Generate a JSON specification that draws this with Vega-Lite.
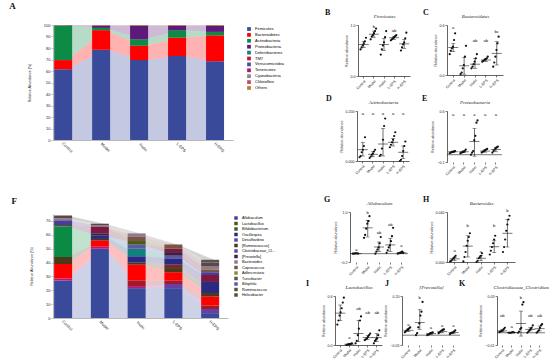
{
"$schema":"https://vega.github.io/schema/vega-lite/v6.json",
"padding":{"left":9,"top":2,"right":0,"bottom":0},
"background":"white",
"datasets":{
"phy":[
{"g":"Control","c":"Firmicutes","v":61.5,"k":1},{"g":"Control","c":"Bacteroidetes","v":8,"k":2},{"g":"Control","c":"Actinobacteria","v":30,"k":3},{"g":"Control","c":"Proteobacteria","v":0.3,"k":4},{"g":"Control","c":"Others","v":0.2,"k":11},
{"g":"Model","c":"Firmicutes","v":78.5,"k":1},{"g":"Model","c":"Bacteroidetes","v":17,"k":2},{"g":"Model","c":"Actinobacteria","v":2,"k":3},{"g":"Model","c":"Proteobacteria","v":2,"k":4},{"g":"Model","c":"Others","v":0.5,"k":11},
{"g":"Inulin","c":"Firmicutes","v":69.5,"k":1},{"g":"Inulin","c":"Bacteroidetes","v":12.5,"k":2},{"g":"Inulin","c":"Actinobacteria","v":5.5,"k":3},{"g":"Inulin","c":"Proteobacteria","v":12,"k":4},{"g":"Inulin","c":"Others","v":0.5,"k":11},
{"g":"L-EPS","c":"Firmicutes","v":73,"k":1},{"g":"L-EPS","c":"Bacteroidetes","v":16,"k":2},{"g":"L-EPS","c":"Actinobacteria","v":6.5,"k":3},{"g":"L-EPS","c":"Proteobacteria","v":4,"k":4},{"g":"L-EPS","c":"Others","v":0.5,"k":11},
{"g":"H-EPS","c":"Firmicutes","v":68.5,"k":1},{"g":"H-EPS","c":"Bacteroidetes","v":22.5,"k":2},{"g":"H-EPS","c":"Actinobacteria","v":3,"k":3},{"g":"H-EPS","c":"Proteobacteria","v":5.5,"k":4},{"g":"H-EPS","c":"Others","v":0.5,"k":11}
],
"gen":[
{"g":"Control","c":"Blautia","v":27,"k":1},{"g":"Control","c":"Akkermansia","v":1.5,"k":3},{"g":"Control","c":"Dorea","v":10.5,"k":5},{"g":"Control","c":"[Ruminococcus]","v":5,"k":6},{"g":"Control","c":"Enterococcus","v":22,"k":7},{"g":"Control","c":"Bifidobacterium","v":1,"k":8},{"g":"Control","c":"Allobaculum","v":3.5,"k":15},{"g":"Control","c":"Bacteroides","v":1.5,"k":18},{"g":"Control","c":"Helicobacter","v":2,"k":19},
{"g":"Model","c":"Blautia","v":50,"k":1},{"g":"Model","c":"Akkermansia","v":1.5,"k":3},{"g":"Model","c":"Dorea","v":4.5,"k":5},{"g":"Model","c":"[Ruminococcus]","v":1,"k":6},{"g":"Model","c":"Oscillospira","v":2.5,"k":10},{"g":"Model","c":"[Prevotella]","v":1.5,"k":13},{"g":"Model","c":"Odoribacter","v":5,"k":14},{"g":"Model","c":"Bacteroides","v":1,"k":18},{"g":"Model","c":"Helicobacter","v":1,"k":19},
{"g":"Inulin","c":"Blautia","v":21.5,"k":1},{"g":"Inulin","c":"Akkermansia","v":1.5,"k":3},{"g":"Inulin","c":"Sutterella","v":4,"k":4},{"g":"Inulin","c":"Dorea","v":11.5,"k":5},{"g":"Inulin","c":"[Ruminococcus]","v":1.5,"k":6},{"g":"Inulin","c":"Oscillospira","v":4.5,"k":10},{"g":"Inulin","c":"Parabacteroides","v":5.5,"k":11},{"g":"Inulin","c":"Bilophila","v":3,"k":12},{"g":"Inulin","c":"Lactobacillus","v":2.5,"k":16},{"g":"Inulin","c":"Coprococcus","v":3,"k":17},{"g":"Inulin","c":"Bacteroides","v":2.5,"k":18},
{"g":"L-EPS","c":"Blautia","v":21.5,"k":1},{"g":"L-EPS","c":"Clostridiaceae_Clostridium","v":3,"k":2},{"g":"L-EPS","c":"Sutterella","v":2.5,"k":4},{"g":"L-EPS","c":"Dorea","v":6,"k":5},{"g":"L-EPS","c":"[Ruminococcus]","v":3,"k":6},{"g":"L-EPS","c":"Anaerotruncus","v":2.5,"k":9},{"g":"L-EPS","c":"Oscillospira","v":4.5,"k":10},{"g":"L-EPS","c":"Bilophila","v":2,"k":12},{"g":"L-EPS","c":"[Prevotella]","v":2.5,"k":13},{"g":"L-EPS","c":"Odoribacter","v":2.5,"k":14},{"g":"L-EPS","c":"Coprococcus","v":3,"k":17},
{"g":"H-EPS","c":"Blautia","v":3.5,"k":1},{"g":"H-EPS","c":"Clostridiaceae_Clostridium","v":3,"k":2},{"g":"H-EPS","c":"Sutterella","v":2.5,"k":4},{"g":"H-EPS","c":"Dorea","v":6.5,"k":5},{"g":"H-EPS","c":"[Ruminococcus]","v":2.5,"k":6},{"g":"H-EPS","c":"Oscillospira","v":8,"k":10},{"g":"H-EPS","c":"Odoribacter","v":5,"k":14},{"g":"H-EPS","c":"Allobaculum","v":2,"k":15},{"g":"H-EPS","c":"Coprococcus","v":2,"k":17},{"g":"H-EPS","c":"Bacteroides","v":2.5,"k":18},{"g":"H-EPS","c":"Helicobacter","v":2.5,"k":19},{"g":"H-EPS","c":"Turicibacter","v":2,"k":20}
],
"pts":[
{"p":"B","g":"Control","s":1,"v":0.52},{"p":"B","g":"Control","s":2,"v":0.56},{"p":"B","g":"Control","s":3,"v":0.6},{"p":"B","g":"Control","s":4,"v":0.64},{"p":"B","g":"Control","s":5,"v":0.68},{"p":"B","g":"Control","s":6,"v":0.75},
{"p":"B","g":"Model","s":1,"v":0.72},{"p":"B","g":"Model","s":2,"v":0.77},{"p":"B","g":"Model","s":3,"v":0.8},{"p":"B","g":"Model","s":4,"v":0.84},{"p":"B","g":"Model","s":5,"v":0.88},{"p":"B","g":"Model","s":6,"v":0.93},
{"p":"B","g":"Inulin","s":1,"v":0.42},{"p":"B","g":"Inulin","s":2,"v":0.52},{"p":"B","g":"Inulin","s":3,"v":0.6},{"p":"B","g":"Inulin","s":4,"v":0.66},{"p":"B","g":"Inulin","s":5,"v":0.76},{"p":"B","g":"Inulin","s":6,"v":0.88},
{"p":"B","g":"L-EPS","s":1,"v":0.7},{"p":"B","g":"L-EPS","s":2,"v":0.72},{"p":"B","g":"L-EPS","s":3,"v":0.74},{"p":"B","g":"L-EPS","s":4,"v":0.76},{"p":"B","g":"L-EPS","s":5,"v":0.78},{"p":"B","g":"L-EPS","s":6,"v":0.8},
{"p":"B","g":"H-EPS","s":1,"v":0.5},{"p":"B","g":"H-EPS","s":2,"v":0.56},{"p":"B","g":"H-EPS","s":3,"v":0.62},{"p":"B","g":"H-EPS","s":4,"v":0.66},{"p":"B","g":"H-EPS","s":5,"v":0.74},{"p":"B","g":"H-EPS","s":6,"v":0.85},
{"p":"C","g":"Control","s":1,"v":0.25},{"p":"C","g":"Control","s":2,"v":0.29},{"p":"C","g":"Control","s":3,"v":0.32},{"p":"C","g":"Control","s":4,"v":0.34},{"p":"C","g":"Control","s":5,"v":0.42},{"p":"C","g":"Control","s":6,"v":0.5},
{"p":"C","g":"Model","s":1,"v":0.01},{"p":"C","g":"Model","s":2,"v":0.03},{"p":"C","g":"Model","s":3,"v":0.08},{"p":"C","g":"Model","s":4,"v":0.12},{"p":"C","g":"Model","s":5,"v":0.22},{"p":"C","g":"Model","s":6,"v":0.35},
{"p":"C","g":"Inulin","s":1,"v":0.08},{"p":"C","g":"Inulin","s":2,"v":0.1},{"p":"C","g":"Inulin","s":3,"v":0.13},{"p":"C","g":"Inulin","s":4,"v":0.16},{"p":"C","g":"Inulin","s":5,"v":0.2},{"p":"C","g":"Inulin","s":6,"v":0.25},
{"p":"C","g":"L-EPS","s":1,"v":0.16},{"p":"C","g":"L-EPS","s":2,"v":0.17},{"p":"C","g":"L-EPS","s":3,"v":0.18},{"p":"C","g":"L-EPS","s":4,"v":0.19},{"p":"C","g":"L-EPS","s":5,"v":0.2},{"p":"C","g":"L-EPS","s":6,"v":0.22},
{"p":"C","g":"H-EPS","s":1,"v":0.1},{"p":"C","g":"H-EPS","s":2,"v":0.15},{"p":"C","g":"H-EPS","s":3,"v":0.22},{"p":"C","g":"H-EPS","s":4,"v":0.3},{"p":"C","g":"H-EPS","s":5,"v":0.38},{"p":"C","g":"H-EPS","s":6,"v":0.46},
{"p":"D","g":"Control","s":1,"v":0.015},{"p":"D","g":"Control","s":2,"v":0.02},{"p":"D","g":"Control","s":3,"v":0.035},{"p":"D","g":"Control","s":4,"v":0.045},{"p":"D","g":"Control","s":5,"v":0.06},{"p":"D","g":"Control","s":6,"v":0.095},
{"p":"D","g":"Model","s":1,"v":0.012},{"p":"D","g":"Model","s":2,"v":0.018},{"p":"D","g":"Model","s":3,"v":0.025},{"p":"D","g":"Model","s":4,"v":0.03},{"p":"D","g":"Model","s":5,"v":0.038},{"p":"D","g":"Model","s":6,"v":0.045},
{"p":"D","g":"Inulin","s":1,"v":0.02},{"p":"D","g":"Inulin","s":2,"v":0.025},{"p":"D","g":"Inulin","s":3,"v":0.05},{"p":"D","g":"Inulin","s":4,"v":0.085},{"p":"D","g":"Inulin","s":5,"v":0.14},{"p":"D","g":"Inulin","s":6,"v":0.17},
{"p":"D","g":"L-EPS","s":1,"v":0.055},{"p":"D","g":"L-EPS","s":2,"v":0.065},{"p":"D","g":"L-EPS","s":3,"v":0.075},{"p":"D","g":"L-EPS","s":4,"v":0.085},{"p":"D","g":"L-EPS","s":5,"v":0.1},{"p":"D","g":"L-EPS","s":6,"v":0.115},
{"p":"D","g":"H-EPS","s":1,"v":0.0},{"p":"D","g":"H-EPS","s":2,"v":0.005},{"p":"D","g":"H-EPS","s":3,"v":0.02},{"p":"D","g":"H-EPS","s":4,"v":0.04},{"p":"D","g":"H-EPS","s":5,"v":0.06},{"p":"D","g":"H-EPS","s":6,"v":0.078},
{"p":"E","g":"Control","s":1,"v":0.02},{"p":"E","g":"Control","s":2,"v":0.03},{"p":"E","g":"Control","s":3,"v":0.035},{"p":"E","g":"Control","s":4,"v":0.04},{"p":"E","g":"Control","s":5,"v":0.045},{"p":"E","g":"Control","s":6,"v":0.05},
{"p":"E","g":"Model","s":1,"v":0.02},{"p":"E","g":"Model","s":2,"v":0.03},{"p":"E","g":"Model","s":3,"v":0.035},{"p":"E","g":"Model","s":4,"v":0.04},{"p":"E","g":"Model","s":5,"v":0.05},{"p":"E","g":"Model","s":6,"v":0.07},
{"p":"E","g":"Inulin","s":1,"v":0.0},{"p":"E","g":"Inulin","s":2,"v":0.03},{"p":"E","g":"Inulin","s":3,"v":0.05},{"p":"E","g":"Inulin","s":4,"v":0.2},{"p":"E","g":"Inulin","s":5,"v":0.26},{"p":"E","g":"Inulin","s":6,"v":0.44},{"p":"E","g":"Inulin","s":7,"v":0.47},
{"p":"E","g":"L-EPS","s":1,"v":0.03},{"p":"E","g":"L-EPS","s":2,"v":0.04},{"p":"E","g":"L-EPS","s":3,"v":0.05},{"p":"E","g":"L-EPS","s":4,"v":0.06},{"p":"E","g":"L-EPS","s":5,"v":0.07},{"p":"E","g":"L-EPS","s":6,"v":0.08},
{"p":"E","g":"H-EPS","s":1,"v":0.03},{"p":"E","g":"H-EPS","s":2,"v":0.05},{"p":"E","g":"H-EPS","s":3,"v":0.07},{"p":"E","g":"H-EPS","s":4,"v":0.09},{"p":"E","g":"H-EPS","s":5,"v":0.1},{"p":"E","g":"H-EPS","s":6,"v":0.11},
{"p":"G","g":"Control","s":1,"v":0.0},{"p":"G","g":"Control","s":2,"v":0.0},{"p":"G","g":"Control","s":3,"v":0.005},{"p":"G","g":"Control","s":4,"v":0.005},{"p":"G","g":"Control","s":5,"v":0.01},{"p":"G","g":"Control","s":6,"v":0.0},
{"p":"G","g":"Model","s":1,"v":0.38},{"p":"G","g":"Model","s":2,"v":0.45},{"p":"G","g":"Model","s":3,"v":0.6},{"p":"G","g":"Model","s":4,"v":0.72},{"p":"G","g":"Model","s":5,"v":0.78},{"p":"G","g":"Model","s":6,"v":0.9},
{"p":"G","g":"Inulin","s":1,"v":0.0},{"p":"G","g":"Inulin","s":2,"v":0.05},{"p":"G","g":"Inulin","s":3,"v":0.1},{"p":"G","g":"Inulin","s":4,"v":0.15},{"p":"G","g":"Inulin","s":5,"v":0.25},{"p":"G","g":"Inulin","s":6,"v":0.4},
{"p":"G","g":"L-EPS","s":1,"v":0.02},{"p":"G","g":"L-EPS","s":2,"v":0.08},{"p":"G","g":"L-EPS","s":3,"v":0.15},{"p":"G","g":"L-EPS","s":4,"v":0.2},{"p":"G","g":"L-EPS","s":5,"v":0.3},{"p":"G","g":"L-EPS","s":6,"v":0.42},{"p":"G","g":"L-EPS","s":7,"v":0.62},
{"p":"G","g":"H-EPS","s":1,"v":0.0},{"p":"G","g":"H-EPS","s":2,"v":0.01},{"p":"G","g":"H-EPS","s":3,"v":0.02},{"p":"G","g":"H-EPS","s":4,"v":0.03},{"p":"G","g":"H-EPS","s":5,"v":0.05},{"p":"G","g":"H-EPS","s":6,"v":0.02},
{"p":"H","g":"Control","s":1,"v":0.0005},{"p":"H","g":"Control","s":2,"v":0.001},{"p":"H","g":"Control","s":3,"v":0.002},{"p":"H","g":"Control","s":4,"v":0.003},{"p":"H","g":"Control","s":5,"v":0.004},{"p":"H","g":"Control","s":6,"v":0.005},
{"p":"H","g":"Model","s":1,"v":0.0005},{"p":"H","g":"Model","s":2,"v":0.004},{"p":"H","g":"Model","s":3,"v":0.008},{"p":"H","g":"Model","s":4,"v":0.013},{"p":"H","g":"Model","s":5,"v":0.017},{"p":"H","g":"Model","s":6,"v":0.02},{"p":"H","g":"Model","s":7,"v":0.023},
{"p":"H","g":"Inulin","s":1,"v":0.0},{"p":"H","g":"Inulin","s":2,"v":0.001},{"p":"H","g":"Inulin","s":3,"v":0.003},{"p":"H","g":"Inulin","s":4,"v":0.004},{"p":"H","g":"Inulin","s":5,"v":0.005},{"p":"H","g":"Inulin","s":6,"v":0.007},
{"p":"H","g":"L-EPS","s":1,"v":0.006},{"p":"H","g":"L-EPS","s":2,"v":0.009},{"p":"H","g":"L-EPS","s":3,"v":0.012},{"p":"H","g":"L-EPS","s":4,"v":0.015},{"p":"H","g":"L-EPS","s":5,"v":0.018},{"p":"H","g":"L-EPS","s":6,"v":0.021},
{"p":"H","g":"H-EPS","s":1,"v":0.008},{"p":"H","g":"H-EPS","s":2,"v":0.012},{"p":"H","g":"H-EPS","s":3,"v":0.018},{"p":"H","g":"H-EPS","s":4,"v":0.025},{"p":"H","g":"H-EPS","s":5,"v":0.03},{"p":"H","g":"H-EPS","s":6,"v":0.034},{"p":"H","g":"H-EPS","s":7,"v":0.037},
{"p":"I","g":"Control","s":1,"v":0.25},{"p":"I","g":"Control","s":2,"v":0.3},{"p":"I","g":"Control","s":3,"v":0.36},{"p":"I","g":"Control","s":4,"v":0.4},{"p":"I","g":"Control","s":5,"v":0.45},{"p":"I","g":"Control","s":6,"v":0.52},{"p":"I","g":"Control","s":7,"v":0.58},
{"p":"I","g":"Model","s":1,"v":0.0},{"p":"I","g":"Model","s":2,"v":0.005},{"p":"I","g":"Model","s":3,"v":0.008},{"p":"I","g":"Model","s":4,"v":0.01},{"p":"I","g":"Model","s":5,"v":0.015},{"p":"I","g":"Model","s":6,"v":0.02},
{"p":"I","g":"Inulin","s":1,"v":0.02},{"p":"I","g":"Inulin","s":2,"v":0.05},{"p":"I","g":"Inulin","s":3,"v":0.12},{"p":"I","g":"Inulin","s":4,"v":0.2},{"p":"I","g":"Inulin","s":5,"v":0.3},{"p":"I","g":"Inulin","s":6,"v":0.35},
{"p":"I","g":"L-EPS","s":1,"v":0.06},{"p":"I","g":"L-EPS","s":2,"v":0.07},{"p":"I","g":"L-EPS","s":3,"v":0.08},{"p":"I","g":"L-EPS","s":4,"v":0.1},{"p":"I","g":"L-EPS","s":5,"v":0.12},{"p":"I","g":"L-EPS","s":6,"v":0.14},
{"p":"I","g":"H-EPS","s":1,"v":0.02},{"p":"I","g":"H-EPS","s":2,"v":0.05},{"p":"I","g":"H-EPS","s":3,"v":0.07},{"p":"I","g":"H-EPS","s":4,"v":0.08},{"p":"I","g":"H-EPS","s":5,"v":0.12},{"p":"I","g":"H-EPS","s":6,"v":0.18},
{"p":"J","g":"Control","s":1,"v":0.015},{"p":"J","g":"Control","s":2,"v":0.02},{"p":"J","g":"Control","s":3,"v":0.025},{"p":"J","g":"Control","s":4,"v":0.03},{"p":"J","g":"Control","s":5,"v":0.035},{"p":"J","g":"Control","s":6,"v":0.04},
{"p":"J","g":"Model","s":1,"v":0.0},{"p":"J","g":"Model","s":2,"v":0.01},{"p":"J","g":"Model","s":3,"v":0.04},{"p":"J","g":"Model","s":4,"v":0.06},{"p":"J","g":"Model","s":5,"v":0.1},{"p":"J","g":"Model","s":6,"v":0.12},{"p":"J","g":"Model","s":7,"v":0.17},
{"p":"J","g":"Inulin","s":1,"v":0.0},{"p":"J","g":"Inulin","s":2,"v":0.003},{"p":"J","g":"Inulin","s":3,"v":0.006},{"p":"J","g":"Inulin","s":4,"v":0.01},{"p":"J","g":"Inulin","s":5,"v":0.012},{"p":"J","g":"Inulin","s":6,"v":0.015},
{"p":"J","g":"L-EPS","s":1,"v":0.01},{"p":"J","g":"L-EPS","s":2,"v":0.015},{"p":"J","g":"L-EPS","s":3,"v":0.02},{"p":"J","g":"L-EPS","s":4,"v":0.025},{"p":"J","g":"L-EPS","s":5,"v":0.028},{"p":"J","g":"L-EPS","s":6,"v":0.03},
{"p":"J","g":"H-EPS","s":1,"v":0.005},{"p":"J","g":"H-EPS","s":2,"v":0.01},{"p":"J","g":"H-EPS","s":3,"v":0.012},{"p":"J","g":"H-EPS","s":4,"v":0.015},{"p":"J","g":"H-EPS","s":5,"v":0.02},{"p":"J","g":"H-EPS","s":6,"v":0.025},
{"p":"K","g":"Control","s":1,"v":0.0005},{"p":"K","g":"Control","s":2,"v":0.001},{"p":"K","g":"Control","s":3,"v":0.0015},{"p":"K","g":"Control","s":4,"v":0.002},{"p":"K","g":"Control","s":5,"v":0.003},{"p":"K","g":"Control","s":6,"v":0.004},
{"p":"K","g":"Model","s":1,"v":0.0},{"p":"K","g":"Model","s":2,"v":0.0},{"p":"K","g":"Model","s":3,"v":0.0},{"p":"K","g":"Model","s":4,"v":0.0003},{"p":"K","g":"Model","s":5,"v":0.0005},{"p":"K","g":"Model","s":6,"v":0.0002},
{"p":"K","g":"Inulin","s":1,"v":0.0},{"p":"K","g":"Inulin","s":2,"v":0.001},{"p":"K","g":"Inulin","s":3,"v":0.003},{"p":"K","g":"Inulin","s":4,"v":0.004},{"p":"K","g":"Inulin","s":5,"v":0.023},{"p":"K","g":"Inulin","s":6,"v":0.025},
{"p":"K","g":"L-EPS","s":1,"v":0.0},{"p":"K","g":"L-EPS","s":2,"v":0.001},{"p":"K","g":"L-EPS","s":3,"v":0.002},{"p":"K","g":"L-EPS","s":4,"v":0.003},{"p":"K","g":"L-EPS","s":5,"v":0.004},{"p":"K","g":"L-EPS","s":6,"v":0.006},
{"p":"K","g":"H-EPS","s":1,"v":0.0},{"p":"K","g":"H-EPS","s":2,"v":0.001},{"p":"K","g":"H-EPS","s":3,"v":0.002},{"p":"K","g":"H-EPS","s":4,"v":0.004},{"p":"K","g":"H-EPS","s":5,"v":0.006},{"p":"K","g":"H-EPS","s":6,"v":0.007}
],
"st":[
{"p":"B","g":"Control","m":0.62,"lo":0.56,"hi":0.68},{"p":"B","g":"Model","m":0.82,"lo":0.76,"hi":0.88,"lab":"b","ly":0.97},{"p":"B","g":"Inulin","m":0.62,"lo":0.5,"hi":0.74},{"p":"B","g":"L-EPS","m":0.75,"lo":0.72,"hi":0.78,"lab":"ab","ly":0.88},{"p":"B","g":"H-EPS","m":0.63,"lo":0.54,"hi":0.72},
{"p":"C","g":"Control","m":0.33,"lo":0.28,"hi":0.38,"lab":"a","ly":0.56},{"p":"C","g":"Model","m":0.11,"lo":0.01,"hi":0.21},{"p":"C","g":"Inulin","m":0.13,"lo":0.08,"hi":0.2,"lab":"ab","ly":0.41},{"p":"C","g":"L-EPS","m":0.18,"lo":0.16,"hi":0.2,"lab":"ab","ly":0.41},{"p":"C","g":"H-EPS","m":0.26,"lo":0.12,"hi":0.4,"lab":"bc","ly":0.52},
{"p":"D","g":"Control","m":0.045,"lo":0.02,"hi":0.075,"lab":"a","ly":0.19},{"p":"D","g":"Model","m":0.027,"lo":0.017,"hi":0.037,"lab":"a","ly":0.19},{"p":"D","g":"Inulin","m":0.068,"lo":0.02,"hi":0.13,"lab":"a","ly":0.19},{"p":"D","g":"L-EPS","m":0.075,"lo":0.06,"hi":0.09,"lab":"a","ly":0.19},{"p":"D","g":"H-EPS","m":0.035,"lo":0.01,"hi":0.06,"lab":"a","ly":0.19},
{"p":"E","g":"Control","m":0.04,"lo":0.03,"hi":0.05,"lab":"a","ly":0.54},{"p":"E","g":"Model","m":0.04,"lo":0.03,"hi":0.055,"lab":"a","ly":0.54},{"p":"E","g":"Inulin","m":0.18,"lo":-0.02,"hi":0.36,"lab":"a","ly":0.54},{"p":"E","g":"L-EPS","m":0.05,"lo":0.035,"hi":0.07,"lab":"a","ly":0.54},{"p":"E","g":"H-EPS","m":0.07,"lo":0.04,"hi":0.1,"lab":"a","ly":0.54},
{"p":"G","g":"Control","m":0.005,"lo":0.0,"hi":0.01,"lab":"a","ly":0.08},{"p":"G","g":"Model","m":0.62,"lo":0.4,"hi":0.8,"lab":"b","ly":0.97},{"p":"G","g":"Inulin","m":0.16,"lo":0.05,"hi":0.28,"lab":"ab","ly":0.5},{"p":"G","g":"L-EPS","m":0.21,"lo":0.05,"hi":0.37,"lab":"ab","ly":0.68},{"p":"G","g":"H-EPS","m":0.02,"lo":0.0,"hi":0.04,"lab":"a","ly":0.18},
{"p":"H","g":"Control","m":0.0025,"lo":0.0012,"hi":0.0038,"lab":"a","ly":0.0087},{"p":"H","g":"Model","m":0.0127,"lo":0.004,"hi":0.021,"lab":"b","ly":0.029},{"p":"H","g":"Inulin","m":0.003,"lo":0.001,"hi":0.005,"lab":"a","ly":0.0083},{"p":"H","g":"L-EPS","m":0.0122,"lo":0.0075,"hi":0.017,"lab":"b","ly":0.029},{"p":"H","g":"H-EPS","m":0.023,"lo":0.012,"hi":0.034,"lab":"b","ly":0.0405},
{"p":"I","g":"Control","m":0.39,"lo":0.3,"hi":0.49},{"p":"I","g":"Model","m":0.01,"lo":0.005,"hi":0.015,"lab":"a","ly":0.08},{"p":"I","g":"Inulin","m":0.14,"lo":0.04,"hi":0.3,"lab":"ab","ly":0.44},{"p":"I","g":"L-EPS","m":0.09,"lo":0.07,"hi":0.12,"lab":"ab","ly":0.39},{"p":"I","g":"H-EPS","m":0.09,"lo":0.04,"hi":0.14,"lab":"ab","ly":0.39},
{"p":"J","g":"Control","m":0.025,"lo":0.018,"hi":0.033,"lab":"a","ly":0.05},{"p":"J","g":"Model","m":0.064,"lo":0.03,"hi":0.13,"lab":"b","ly":0.188},{"p":"J","g":"Inulin","m":0.008,"lo":0.003,"hi":0.013,"lab":"a","ly":0.035},{"p":"J","g":"L-EPS","m":0.018,"lo":0.012,"hi":0.025,"lab":"a","ly":0.045},{"p":"J","g":"H-EPS","m":0.013,"lo":0.008,"hi":0.02,"lab":"a","ly":0.045},
{"p":"K","g":"Control","m":0.0015,"lo":0.0008,"hi":0.0025,"lab":"ab","ly":0.0135},{"p":"K","g":"Model","m":0.0002,"lo":0.0,"hi":0.0005,"lab":"a","ly":0.005},{"p":"K","g":"Inulin","m":0.0075,"lo":-0.0027,"hi":0.0177,"lab":"b","ly":0.028},{"p":"K","g":"L-EPS","m":0.0028,"lo":0.0015,"hi":0.0045,"lab":"ab","ly":0.0135},{"p":"K","g":"H-EPS","m":0.0033,"lo":0.0015,"hi":0.0055,"lab":"ab","ly":0.0135}
]
},
"hconcat":[
{"vconcat":[
{"width":180,"height":115,
"title":{"text":"A","dx":-18,"offset":12,"fontSize":9},
"data":{"name":"phy"},
"encoding":{
"x":{"field":"g","type":"nominal","sort":["Control","Model","Inulin","L-EPS","H-EPS"],"scale":{"paddingInner":0.32,"paddingOuter":0.03},"axis":{"title":null,"labelAngle":45,"labelAlign":"center","labelBaseline":"middle","labelPadding":7,"labelFontSize":4,"tickSize":0,"domainColor":"#999"}},
"y":{"field":"v","type":"quantitative","stack":"zero","scale":{"domain":[0,100],"nice":false},"axis":{"title":"Relative Abundance (%)","values":[0,10,20,30,40,50,60,70,80,90,100],"titlePadding":12,"labelFontSize":4,"domainColor":"#999","tickColor":"#999"}},
"color":{"field":"c","type":"nominal","scale":{"domain":["Firmicutes","Bacteroidetes","Actinobacteria","Proteobacteria","Deferribacteres","TM7","Verrucomicrobia","Tenericutes","Cyanobacteria","Chloroflexi","Others"],"range":["#3a4a9a","#ff0000","#0d8a46","#5e1a7a","#128282","#c0182c","#4c4ca0","#b0176a","#8a8a8a","#c44c62","#b88030"]},"legend":{"title":null,"offset":12,"symbolType":"square","symbolSize":14,"symbolOpacity":1,"symbolStrokeWidth":0,"labelFontSize":4,"rowPadding":1.9,"labelLimit":36,"padding":2}},
"order":{"field":"k","type":"quantitative"}
},
"layer":[{"mark":{"type":"area","opacity":0.3}},{"mark":{"type":"bar"}}]
},
{"width":175,"height":104,
"title":{"text":"F","dx":-18,"offset":8,"fontSize":9},
"data":{"name":"gen"},
"encoding":{
"x":{"field":"g","type":"nominal","sort":["Control","Model","Inulin","L-EPS","H-EPS"],"scale":{"paddingInner":0.3,"paddingOuter":0.03},"axis":{"title":null,"labelAngle":45,"labelAlign":"center","labelBaseline":"middle","labelPadding":7,"labelFontSize":4,"tickSize":0,"domainColor":"#999"}},
"y":{"field":"v","type":"quantitative","stack":"zero","scale":{"domain":[0,75],"nice":false},"axis":{"title":"Relative Abundance (%)","values":[0,10,20,30,40,50,60,70],"titlePadding":12,"labelFontSize":4,"domainColor":"#999","tickColor":"#999"}},
"color":{"field":"c","type":"nominal","scale":{"domain":["Blautia","Clostridiaceae_Clostridium","Akkermansia","Sutterella","Dorea","[Ruminococcus]","Enterococcus","Bifidobacterium","Anaerotruncus","Oscillospira","Parabacteroides","Bilophila","[Prevotella]","Odoribacter","Allobaculum","Lactobacillus","Coprococcus","Bacteroides","Helicobacter","Turicibacter","Desulfovibrio","Adlercreutzia","Ruminococcus"],"range":["#3a4a9b","#6a3fa0","#b5177a","#9e1b2a","#ff0000","#4a3a1a","#0b8a45","#3f5a2e","#7a2a1e","#2a2a80","#138080","#5a5aa2","#3d1f45","#7a1a40","#4b3c9c","#4a5a10","#7a5544","#8c7c8c","#5a4848","#555555","#58489c","#8a8a3a","#4b5a30"]},"legend":{"title":null,"offset":4,"values":["Allobaculum","Lactobacillus","Bifidobacterium","Oscillospira","Desulfovibrio","[Ruminococcus]","Clostridiaceae_Clostridium","[Prevotella]","Bacteroides","Coprococcus","Adlercreutzia","Turicibacter","Bilophila","Ruminococcus","Helicobacter"],"symbolType":"square","symbolSize":12,"symbolOpacity":1,"symbolStrokeWidth":0,"labelFontSize":3.8,"rowPadding":1.5,"labelLimit":34,"padding":2}},
"order":{"field":"k","type":"quantitative"}
},
"layer":[{"transform":[{"impute":"v","key":"g","groupby":["c","k"],"value":0}],"mark":{"type":"area","opacity":0.25}},{"mark":{"type":"bar"}}]
}
],"spacing":44,"resolve":{"scale":{"color":"independent"},"legend":{"color":"independent"}}},
{"vconcat":[
{"hconcat":[
{"width":23,"height":67,"data":{"values":[]},"mark":{"type":"point","opacity":0}},
{"hconcat":[
{"width":52,"height":51,"title":{"text":"B","dx":-19,"dy":-3,"offset":-7},
"layer":[
{"data":{"name":"pts"},"transform":[{"filter":"datum.p=='B'"}],"mark":{"type":"circle","size":5,"color":"#111","opacity":1},
"encoding":{"x":{"field":"g","type":"nominal","sort":["Control","Model","Inulin","L-EPS","H-EPS"],"scale":{"paddingInner":0.25,"paddingOuter":0.2},"axis":{"title":null,"labelAngle":-45}},"xOffset":{"field":"s","type":"nominal"},
"y":{"field":"v","type":"quantitative","scale":{"domain":[0,1],"nice":false},"axis":{"title":"Relative abundance","values":[0,0.2,0.4,0.6,0.8,1],"format":".1f"}}}},
{"data":{"name":"st"},"transform":[{"filter":"datum.p=='B'"}],
"encoding":{"x":{"field":"g","type":"nominal","sort":["Control","Model","Inulin","L-EPS","H-EPS"],"axis":{"orient":"top","title":"Firmicutes"}}},
"layer":[
{"mark":{"type":"rule","strokeWidth":0.6,"color":"#111"},"encoding":{"y":{"field":"lo","type":"quantitative"},"y2":{"field":"hi"}}},
{"mark":{"type":"tick","size":4,"thickness":0.6,"color":"#111"},"encoding":{"y":{"field":"lo","type":"quantitative"}}},
{"mark":{"type":"tick","size":4,"thickness":0.6,"color":"#111"},"encoding":{"y":{"field":"hi","type":"quantitative"}}},
{"mark":{"type":"tick","size":10,"thickness":0.8,"color":"#111"},"encoding":{"y":{"field":"m","type":"quantitative"}}},
{"transform":[{"filter":"datum.lab"}],"mark":{"type":"text","fontSize":4.2,"color":"#111"},"encoding":{"y":{"field":"ly","type":"quantitative"},"text":{"field":"lab"}}}
]}
],"resolve":{"axis":{"x":"independent"}}},
{"width":56,"height":50,"title":{"text":"C","dx":-10,"dy":-3,"offset":-7},
"layer":[
{"data":{"name":"pts"},"transform":[{"filter":"datum.p=='C'"}],"mark":{"type":"circle","size":5,"color":"#111","opacity":1},
"encoding":{"x":{"field":"g","type":"nominal","sort":["Control","Model","Inulin","L-EPS","H-EPS"],"scale":{"paddingInner":0.25,"paddingOuter":0.2},"axis":{"title":null,"labelAngle":-45}},"xOffset":{"field":"s","type":"nominal"},
"y":{"field":"v","type":"quantitative","scale":{"domain":[0,0.6],"nice":false},"axis":{"title":"Relative abundance","values":[0,0.2,0.4,0.6],"format":".1f"}}}},
{"data":{"name":"st"},"transform":[{"filter":"datum.p=='C'"}],
"encoding":{"x":{"field":"g","type":"nominal","sort":["Control","Model","Inulin","L-EPS","H-EPS"],"axis":{"orient":"top","title":"Bacteroidetes"}}},
"layer":[
{"mark":{"type":"rule","strokeWidth":0.6,"color":"#111"},"encoding":{"y":{"field":"lo","type":"quantitative"},"y2":{"field":"hi"}}},
{"mark":{"type":"tick","size":4,"thickness":0.6,"color":"#111"},"encoding":{"y":{"field":"lo","type":"quantitative"}}},
{"mark":{"type":"tick","size":4,"thickness":0.6,"color":"#111"},"encoding":{"y":{"field":"hi","type":"quantitative"}}},
{"mark":{"type":"tick","size":10,"thickness":0.8,"color":"#111"},"encoding":{"y":{"field":"m","type":"quantitative"}}},
{"transform":[{"filter":"datum.lab"}],"mark":{"type":"text","fontSize":4.2,"color":"#111"},"encoding":{"y":{"field":"ly","type":"quantitative"},"text":{"field":"lab"}}}
]}
],"resolve":{"axis":{"x":"independent"}}}
],"spacing":37,"bounds":"flush"}
],"spacing":0,"bounds":"flush"},
{"hconcat":[
{"width":22,"height":82,"data":{"values":[]},"mark":{"type":"point","opacity":0}},
{"hconcat":[
{"width":52,"height":50,"title":{"text":"D","dx":-13,"dy":-3,"offset":-7},
"layer":[
{"data":{"name":"pts"},"transform":[{"filter":"datum.p=='D'"}],"mark":{"type":"circle","size":5,"color":"#111","opacity":1},
"encoding":{"x":{"field":"g","type":"nominal","sort":["Control","Model","Inulin","L-EPS","H-EPS"],"scale":{"paddingInner":0.25,"paddingOuter":0.2},"axis":{"title":null,"labelAngle":-45}},"xOffset":{"field":"s","type":"nominal"},
"y":{"field":"v","type":"quantitative","scale":{"domain":[0,0.2],"nice":false},"axis":{"title":"Relative abundance","values":[0,0.05,0.1,0.15,0.2],"format":".3f"}}}},
{"data":{"name":"st"},"transform":[{"filter":"datum.p=='D'"}],
"encoding":{"x":{"field":"g","type":"nominal","sort":["Control","Model","Inulin","L-EPS","H-EPS"],"axis":{"orient":"top","title":"Actinobacteria"}}},
"layer":[
{"mark":{"type":"rule","strokeWidth":0.6,"color":"#111"},"encoding":{"y":{"field":"lo","type":"quantitative"},"y2":{"field":"hi"}}},
{"mark":{"type":"tick","size":4,"thickness":0.6,"color":"#111"},"encoding":{"y":{"field":"lo","type":"quantitative"}}},
{"mark":{"type":"tick","size":4,"thickness":0.6,"color":"#111"},"encoding":{"y":{"field":"hi","type":"quantitative"}}},
{"mark":{"type":"tick","size":10,"thickness":0.8,"color":"#111"},"encoding":{"y":{"field":"m","type":"quantitative"}}},
{"transform":[{"filter":"datum.lab"}],"mark":{"type":"text","fontSize":4.2,"color":"#111"},"encoding":{"y":{"field":"ly","type":"quantitative"},"text":{"field":"lab"}}}
]}
],"resolve":{"axis":{"x":"independent"}}},
{"width":55,"height":51,"title":{"text":"E","dx":-9,"dy":-3,"offset":-7},
"layer":[
{"data":{"name":"pts"},"transform":[{"filter":"datum.p=='E'"}],"mark":{"type":"circle","size":5,"color":"#111","opacity":1},
"encoding":{"x":{"field":"g","type":"nominal","sort":["Control","Model","Inulin","L-EPS","H-EPS"],"scale":{"paddingInner":0.25,"paddingOuter":0.2},"axis":{"title":null,"labelAngle":-45,"domain":false}},"xOffset":{"field":"s","type":"nominal"},
"y":{"field":"v","type":"quantitative","scale":{"domain":[-0.1,0.6],"nice":false},"axis":{"title":"Relative abundance","values":[-0.1,0,0.1,0.2,0.3,0.4,0.5,0.6],"format":".1f"}}}},
{"data":{"values":[{"z":0}]},"mark":{"type":"rule","strokeWidth":0.6,"color":"#222"},"encoding":{"y":{"field":"z","type":"quantitative"}}},
{"data":{"name":"st"},"transform":[{"filter":"datum.p=='E'"}],
"encoding":{"x":{"field":"g","type":"nominal","sort":["Control","Model","Inulin","L-EPS","H-EPS"],"axis":{"orient":"top","title":"Proteobacteria"}}},
"layer":[
{"mark":{"type":"rule","strokeWidth":0.6,"color":"#111"},"encoding":{"y":{"field":"lo","type":"quantitative"},"y2":{"field":"hi"}}},
{"mark":{"type":"tick","size":4,"thickness":0.6,"color":"#111"},"encoding":{"y":{"field":"lo","type":"quantitative"}}},
{"mark":{"type":"tick","size":4,"thickness":0.6,"color":"#111"},"encoding":{"y":{"field":"hi","type":"quantitative"}}},
{"mark":{"type":"tick","size":10,"thickness":0.8,"color":"#111"},"encoding":{"y":{"field":"m","type":"quantitative"}}},
{"transform":[{"filter":"datum.lab"}],"mark":{"type":"text","fontSize":4.2,"color":"#111"},"encoding":{"y":{"field":"ly","type":"quantitative"},"text":{"field":"lab"}}}
]}
],"resolve":{"axis":{"x":"independent"}}}
],"spacing":38,"bounds":"flush"}
],"spacing":0,"bounds":"flush"},
{"hconcat":[
{"width":15,"height":65,"data":{"values":[]},"mark":{"type":"point","opacity":0}},
{"hconcat":[
{"width":58,"height":50,"title":{"text":"G","dx":-10,"dy":-3,"offset":-7},
"layer":[
{"data":{"name":"pts"},"transform":[{"filter":"datum.p=='G'"}],"mark":{"type":"circle","size":5,"color":"#111","opacity":1},
"encoding":{"x":{"field":"g","type":"nominal","sort":["Control","Model","Inulin","L-EPS","H-EPS"],"scale":{"paddingInner":0.25,"paddingOuter":0.2},"axis":{"title":null,"labelAngle":-45,"domain":false}},"xOffset":{"field":"s","type":"nominal"},
"y":{"field":"v","type":"quantitative","scale":{"domain":[-0.2,1],"nice":false},"axis":{"title":"Relative abundance","values":[-0.2,0,0.2,0.4,0.6,0.8,1],"format":".1f"}}}},
{"data":{"values":[{"z":0}]},"mark":{"type":"rule","strokeWidth":0.6,"color":"#222"},"encoding":{"y":{"field":"z","type":"quantitative"}}},
{"data":{"name":"st"},"transform":[{"filter":"datum.p=='G'"}],
"encoding":{"x":{"field":"g","type":"nominal","sort":["Control","Model","Inulin","L-EPS","H-EPS"],"axis":{"orient":"top","title":"Allobaculum"}}},
"layer":[
{"mark":{"type":"rule","strokeWidth":0.6,"color":"#111"},"encoding":{"y":{"field":"lo","type":"quantitative"},"y2":{"field":"hi"}}},
{"mark":{"type":"tick","size":4,"thickness":0.6,"color":"#111"},"encoding":{"y":{"field":"lo","type":"quantitative"}}},
{"mark":{"type":"tick","size":4,"thickness":0.6,"color":"#111"},"encoding":{"y":{"field":"hi","type":"quantitative"}}},
{"mark":{"type":"tick","size":10,"thickness":0.8,"color":"#111"},"encoding":{"y":{"field":"m","type":"quantitative"}}},
{"transform":[{"filter":"datum.lab"}],"mark":{"type":"text","fontSize":4.2,"color":"#111"},"encoding":{"y":{"field":"ly","type":"quantitative"},"text":{"field":"lab"}}}
]}
],"resolve":{"axis":{"x":"independent"}}},
{"width":68,"height":50,"title":{"text":"H","dx":-6,"dy":-3,"offset":-7},
"layer":[
{"data":{"name":"pts"},"transform":[{"filter":"datum.p=='H'"}],"mark":{"type":"circle","size":5,"color":"#111","opacity":1},
"encoding":{"x":{"field":"g","type":"nominal","sort":["Control","Model","Inulin","L-EPS","H-EPS"],"scale":{"paddingInner":0.25,"paddingOuter":0.2},"axis":{"title":null,"labelAngle":-45}},"xOffset":{"field":"s","type":"nominal"},
"y":{"field":"v","type":"quantitative","scale":{"domain":[0,0.04],"nice":false},"axis":{"title":"Relative abundance","values":[0,0.01,0.02,0.03,0.04],"format":".3f"}}}},
{"data":{"name":"st"},"transform":[{"filter":"datum.p=='H'"}],
"encoding":{"x":{"field":"g","type":"nominal","sort":["Control","Model","Inulin","L-EPS","H-EPS"],"axis":{"orient":"top","title":"Bacteroides"}}},
"layer":[
{"mark":{"type":"rule","strokeWidth":0.6,"color":"#111"},"encoding":{"y":{"field":"lo","type":"quantitative"},"y2":{"field":"hi"}}},
{"mark":{"type":"tick","size":4,"thickness":0.6,"color":"#111"},"encoding":{"y":{"field":"lo","type":"quantitative"}}},
{"mark":{"type":"tick","size":4,"thickness":0.6,"color":"#111"},"encoding":{"y":{"field":"hi","type":"quantitative"}}},
{"mark":{"type":"tick","size":10,"thickness":0.8,"color":"#111"},"encoding":{"y":{"field":"m","type":"quantitative"}}},
{"transform":[{"filter":"datum.lab"}],"mark":{"type":"text","fontSize":4.2,"color":"#111"},"encoding":{"y":{"field":"ly","type":"quantitative"},"text":{"field":"lab"}}}
]}
],"resolve":{"axis":{"x":"independent"}}}
],"spacing":39,"bounds":"flush"}
],"spacing":0,"bounds":"flush"},
{"hconcat":[
{"width":47,"height":49,"title":{"text":"I","dx":-15,"dy":-3,"offset":-7},
"layer":[
{"data":{"name":"pts"},"transform":[{"filter":"datum.p=='I'"}],"mark":{"type":"circle","size":5,"color":"#111","opacity":1},
"encoding":{"x":{"field":"g","type":"nominal","sort":["Control","Model","Inulin","L-EPS","H-EPS"],"scale":{"paddingInner":0.25,"paddingOuter":0.2},"axis":{"title":null,"labelAngle":-45}},"xOffset":{"field":"s","type":"nominal"},
"y":{"field":"v","type":"quantitative","scale":{"domain":[0,0.6],"nice":false},"axis":{"title":"Relative abundance","values":[0,0.2,0.4,0.6],"format":".1f"}}}},
{"data":{"name":"st"},"transform":[{"filter":"datum.p=='I'"}],
"encoding":{"x":{"field":"g","type":"nominal","sort":["Control","Model","Inulin","L-EPS","H-EPS"],"axis":{"orient":"top","title":"Lactobacillus"}}},
"layer":[
{"mark":{"type":"rule","strokeWidth":0.6,"color":"#111"},"encoding":{"y":{"field":"lo","type":"quantitative"},"y2":{"field":"hi"}}},
{"mark":{"type":"tick","size":4,"thickness":0.6,"color":"#111"},"encoding":{"y":{"field":"lo","type":"quantitative"}}},
{"mark":{"type":"tick","size":4,"thickness":0.6,"color":"#111"},"encoding":{"y":{"field":"hi","type":"quantitative"}}},
{"mark":{"type":"tick","size":10,"thickness":0.8,"color":"#111"},"encoding":{"y":{"field":"m","type":"quantitative"}}},
{"transform":[{"filter":"datum.lab"}],"mark":{"type":"text","fontSize":4.2,"color":"#111"},"encoding":{"y":{"field":"ly","type":"quantitative"},"text":{"field":"lab"}}}
]}
],"resolve":{"axis":{"x":"independent"}}},
{"hconcat":[
{"width":58,"height":49,"title":{"text":"J","dx":1,"dy":-3,"offset":-7},
"layer":[
{"data":{"name":"pts"},"transform":[{"filter":"datum.p=='J'"}],"mark":{"type":"circle","size":5,"color":"#111","opacity":1},
"encoding":{"x":{"field":"g","type":"nominal","sort":["Control","Model","Inulin","L-EPS","H-EPS"],"scale":{"paddingInner":0.25,"paddingOuter":0.2},"axis":{"title":null,"labelAngle":-45,"domain":false}},"xOffset":{"field":"s","type":"nominal"},
"y":{"field":"v","type":"quantitative","scale":{"domain":[-0.05,0.2],"nice":false},"axis":{"title":"Relative abundance","values":[-0.05,0,0.05,0.1,0.15,0.2],"format":".2f"}}}},
{"data":{"values":[{"z":0}]},"mark":{"type":"rule","strokeWidth":0.6,"color":"#222"},"encoding":{"y":{"field":"z","type":"quantitative"}}},
{"data":{"name":"st"},"transform":[{"filter":"datum.p=='J'"}],
"encoding":{"x":{"field":"g","type":"nominal","sort":["Control","Model","Inulin","L-EPS","H-EPS"],"axis":{"orient":"top","title":"[Prevotella]"}}},
"layer":[
{"mark":{"type":"rule","strokeWidth":0.6,"color":"#111"},"encoding":{"y":{"field":"lo","type":"quantitative"},"y2":{"field":"hi"}}},
{"mark":{"type":"tick","size":4,"thickness":0.6,"color":"#111"},"encoding":{"y":{"field":"lo","type":"quantitative"}}},
{"mark":{"type":"tick","size":4,"thickness":0.6,"color":"#111"},"encoding":{"y":{"field":"hi","type":"quantitative"}}},
{"mark":{"type":"tick","size":10,"thickness":0.8,"color":"#111"},"encoding":{"y":{"field":"m","type":"quantitative"}}},
{"transform":[{"filter":"datum.lab"}],"mark":{"type":"text","fontSize":4.2,"color":"#111"},"encoding":{"y":{"field":"ly","type":"quantitative"},"text":{"field":"lab"}}}
]}
],"resolve":{"axis":{"x":"independent"}}},
{"width":48,"height":49,"title":{"text":"K","dx":-20,"dy":-3,"offset":-7},
"layer":[
{"data":{"name":"pts"},"transform":[{"filter":"datum.p=='K'"}],"mark":{"type":"circle","size":5,"color":"#111","opacity":1},
"encoding":{"x":{"field":"g","type":"nominal","sort":["Control","Model","Inulin","L-EPS","H-EPS"],"scale":{"paddingInner":0.25,"paddingOuter":0.2},"axis":{"title":null,"labelAngle":-45,"domain":false}},"xOffset":{"field":"s","type":"nominal"},
"y":{"field":"v","type":"quantitative","scale":{"domain":[-0.01,0.03],"nice":false},"axis":{"title":"Relative abundance","values":[-0.01,0,0.01,0.02,0.03],"format":".2f"}}}},
{"data":{"values":[{"z":0}]},"mark":{"type":"rule","strokeWidth":0.6,"color":"#222"},"encoding":{"y":{"field":"z","type":"quantitative"}}},
{"data":{"name":"st"},"transform":[{"filter":"datum.p=='K'"}],
"encoding":{"x":{"field":"g","type":"nominal","sort":["Control","Model","Inulin","L-EPS","H-EPS"],"axis":{"orient":"top","title":"Clostridiaceae_Clostridium"}}},
"layer":[
{"mark":{"type":"rule","strokeWidth":0.6,"color":"#111"},"encoding":{"y":{"field":"lo","type":"quantitative"},"y2":{"field":"hi"}}},
{"mark":{"type":"tick","size":4,"thickness":0.6,"color":"#111"},"encoding":{"y":{"field":"lo","type":"quantitative"}}},
{"mark":{"type":"tick","size":4,"thickness":0.6,"color":"#111"},"encoding":{"y":{"field":"hi","type":"quantitative"}}},
{"mark":{"type":"tick","size":10,"thickness":0.8,"color":"#111"},"encoding":{"y":{"field":"m","type":"quantitative"}}},
{"transform":[{"filter":"datum.lab"}],"mark":{"type":"text","fontSize":4.2,"color":"#111"},"encoding":{"y":{"field":"ly","type":"quantitative"},"text":{"field":"lab"}}}
]}
],"resolve":{"axis":{"x":"independent"}}}
],"spacing":37,"bounds":"flush"}
],"spacing":20,"bounds":"flush"}
],"spacing":3}
],
"spacing":20,
"resolve":{"scale":{"color":"independent"},"legend":{"color":"independent"}},
"config":{
"font":"Liberation Sans",
"view":{"stroke":null},
"axis":{"grid":false,"labelOverlap":false,"labelFontSize":3.6,"titleFontSize":3.6,"titleFontWeight":"normal","tickSize":2,"tickWidth":0.6,"domainWidth":0.7,"domainColor":"#222","tickColor":"#222","labelColor":"#222","titleColor":"#222","labelPadding":1,"titlePadding":2,"labelFont":"Liberation Sans","titleFont":"Liberation Sans"},
"axisTop":{"labels":false,"ticks":false,"domain":false,"titleFont":"Liberation Serif","titleFontStyle":"italic","titleFontSize":5,"titlePadding":7},
"title":{"font":"Liberation Serif","fontWeight":"bold","fontSize":8,"anchor":"start","frame":"bounds","color":"#111","offset":0},
"legend":{"labelFont":"Liberation Sans"}
}
}
